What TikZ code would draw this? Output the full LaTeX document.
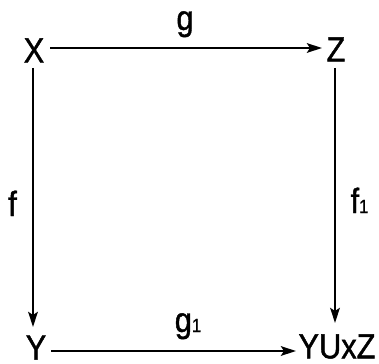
\documentclass[tikz,border=0pt]{standalone}
\usepackage{fontspec}
\setmainfont[FakeStretch=0.88,FakeBold=1.2]{Liberation Sans}
\usetikzlibrary{arrows.meta}
\tikzset{
  lbl/.style={inner sep=0pt, font=\fontsize{35}{35}\selectfont},
  arr/.style={line width=2.8pt, -{Stealth[length=15pt,width=9.5pt,inset=3pt]}},
}
\newcommand{\subone}{{\fontsize{19}{19}\selectfont 1}}
\begin{document}
\begin{tikzpicture}[x=1pt,y=-1pt]
\useasboundingbox (0,0) rectangle (379,363);
\node[lbl] (X) at (34,50.5) {X};
\node[lbl] (Z) at (336,49.5) {Z};
\node[lbl] (Y) at (36,347.5) {Y};
\node[lbl] (W) at (337,346.5) {YUxZ};
\node[lbl, anchor=base] (g) at (185,30) {g};
\node[lbl, anchor=base] (g1) at (188,332) {g\subone};
\node[lbl, anchor=base] (f) at (12.5,216) {f};
\node[lbl, anchor=base] (f1) at (359.5,213) {f\subone};
\draw[arr] ([shift={(16,-2.5)}]X.center) -- ([shift={(-14,-1.5)}]Z.center);
\draw[arr] ([shift={(-1,17.5)}]X.center) -- ([shift={(-3,-20.5)}]Y.center);
\draw[arr] ([shift={(-1,18.5)}]Z.center) -- ([shift={(-2,-23.5)}]W.center);
\draw[arr] ([shift={(15,3.5)}]Y.center) -- ([shift={(-41,4.5)}]W.center);
\end{tikzpicture}
\end{document}
